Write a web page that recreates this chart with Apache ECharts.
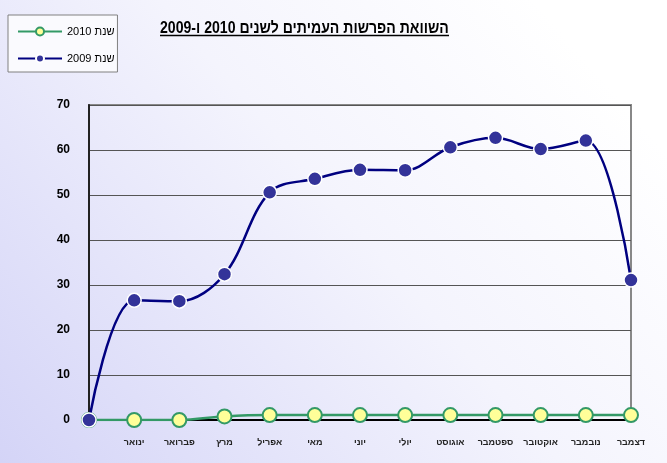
<!DOCTYPE html>
<html>
<head>
<meta charset="utf-8">
<script src="https://cdn.jsdelivr.net/npm/echarts@6/dist/echarts.min.js"></script>
<style>
  html, body { margin: 0; padding: 0; }
  #main { width: 667px; height: 463px; }
</style>
</head>
<body>
<div id="main" dir="rtl"></div>
<script>
// months (first slot is the empty start point on the y axis)
var months = ['', 'ינואר', 'פברואר', 'מרץ', 'אפריל', 'מאי', 'יוני', 'יולי', 'אוגוסט', 'ספטמבר', 'אוקטובר', 'נובמבר', 'דצמבר'];
var year2010 = [0, 0, 0, 0.8, 1.1, 1.1, 1.1, 1.1, 1.1, 1.1, 1.1, 1.1, 1.1];
var year2009 = [0, 26.6, 26.4, 32.4, 50.6, 53.6, 55.6, 55.5, 60.6, 62.7, 60.2, 62.1, 31.1];
var yTicks = [0, 10, 20, 30, 40, 50, 60, 70];

var chart = echarts.init(document.getElementById('main'));

var option = {
    backgroundColor: {
        type: 'linear', x: 0, y: 1, x2: 0.8, y2: 0,
        colorStops: [
            { offset: 0, color: '#d4d4f7' },
            { offset: 0.6, color: '#f4f4fd' },
            { offset: 1, color: '#ffffff' }
        ]
    },
    animation: false,
    textStyle: { fontFamily: 'Liberation Sans, Arial, sans-serif' },
    graphic: [
        {
            type: 'text', x: 160, y: 21, scaleX: 0.88,
            style: {
                text: 'השוואת הפרשות העמיתים לשנים 2010 ו-2009',
                font: 'bold 16px "Liberation Sans", Arial, sans-serif',
                fill: '#000',
                textAlign: 'left',
                textVerticalAlign: 'top'
            }
        },
        {
            type: 'line',
            shape: { x1: 160, y1: 35.5, x2: 449, y2: 35.5 },
            style: { stroke: '#000', lineWidth: 1.5 }
        }
    ],
    legend: {
        orient: 'vertical',
        left: 8, top: 15,
        padding: [11, 3, 8, 9],
        itemGap: 16,
        itemWidth: 44,
        itemHeight: 10,
        backgroundColor: '#fafafe',
        borderColor: '#808080',
        borderWidth: 1,
        borderRadius: 0,
        textStyle: { fontSize: 11, color: '#000' },
        data: ['שנת 2010', 'שנת 2009']
    },
    grid: { left: 89, right: 36, top: 105, bottom: 43, show: true, borderColor: '#888', borderWidth: 2, backgroundColor: 'transparent' },
    xAxis: {
        type: 'category',
        data: months,
        boundaryGap: false,
        axisLine: { lineStyle: { color: '#000', width: 2 } },
        axisTick: { show: false },
        axisLabel: { interval: 0, margin: 18, fontSize: 9, fontWeight: 'bold', color: '#222' },
        splitLine: { show: false }
    },
    yAxis: {
        type: 'value',
        min: yTicks[0], max: yTicks[yTicks.length - 1], interval: 10,
        axisLine: { show: true, lineStyle: { color: '#222', width: 2 } },
        axisTick: { show: false },
        axisLabel: { margin: 19, fontSize: 12, fontWeight: 'bold', color: '#000' },
        splitLine: { lineStyle: { color: '#555', width: 1 } }
    },
    series: [
        {
            name: 'שנת 2010',
            type: 'line',
            data: year2010,
            smooth: 0.35,
            symbol: 'circle',
            symbolSize: 14,
            z: 2,
            lineStyle: { color: '#339966', width: 2.5 },
            itemStyle: { color: '#ffff99', borderColor: '#339966', borderWidth: 2 }
        },
        {
            name: 'שנת 2009',
            type: 'line',
            data: year2009,
            smooth: 0.35,
            symbol: 'circle',
            symbolSize: 14,
            z: 3,
            lineStyle: { color: '#000080', width: 2.5 },
            itemStyle: { color: '#333399', borderColor: '#ffffff', borderWidth: 1.5 }
        }
    ]
};

chart.setOption(option);
</script>
</body>
</html>
